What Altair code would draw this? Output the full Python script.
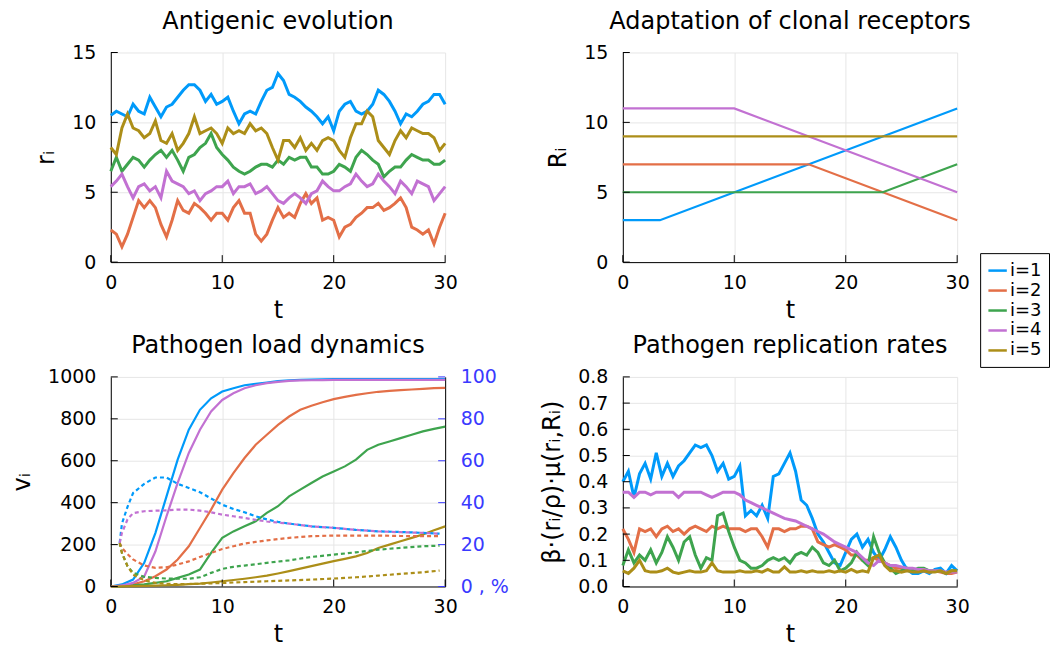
import altair as alt
import pandas as pd

FONT = "DejaVu Sans"
SERIES = ["i=1", "i=2", "i=3", "i=4", "i=5"]
COLORS = ["#009AFA", "#E36F47", "#3EA44E", "#C271D2", "#AC8E18"]
AXIS_BLUE = "#3a3aff"
W, H = 335, 210

# ---------------- Antigenic evolution r_i (t = 0, 0.5, ..., 30) ----------------
T_HALF = [k / 2 for k in range(61)]
R_1 = [10.5, 10.8, 10.6, 10.4, 11.3, 10.8, 10.6, 11.8, 11.1, 10.4,
       11.1, 11.3, 11.8, 12.3, 12.7, 12.7, 12.3, 11.5, 12.0, 11.3,
       11.5, 11.8, 10.8, 9.9, 10.6, 10.8, 10.6, 11.5, 12.3, 12.5,
       13.5, 13.0, 12.0, 11.8, 11.5, 11.1, 10.8, 10.4, 9.9, 10.4,
       9.4, 10.8, 11.3, 11.5, 10.8, 10.6, 10.8, 11.3, 12.3, 12.0,
       11.5, 10.8, 9.9, 10.6, 10.4, 10.8, 11.3, 11.5, 12.0, 12.0,
       11.3]
R_2 = [2.3, 2.0, 1.1, 2.0, 3.2, 4.4, 3.9, 4.4, 3.9, 2.7,
       1.8, 3.0, 4.4, 3.7, 3.5, 4.2, 3.9, 3.5, 3.0, 3.5,
       3.5, 3.0, 3.9, 4.4, 3.5, 3.5, 2.0, 1.5, 2.0, 3.0,
       3.9, 3.2, 3.5, 3.2, 4.2, 4.9, 4.2, 4.6, 3.0, 3.2,
       3.0, 1.8, 2.5, 2.7, 3.2, 3.5, 3.9, 3.9, 4.2, 3.7,
       3.9, 4.2, 4.6, 3.9, 2.5, 2.3, 2.0, 2.3, 1.3, 2.5,
       3.5]
R_3 = [6.5, 7.5, 6.5, 7.0, 7.5, 7.3, 6.8, 7.3, 7.7, 8.0,
       7.5, 8.0, 7.3, 6.5, 7.5, 7.7, 8.2, 8.5, 9.2, 8.2,
       7.7, 7.3, 6.8, 6.5, 6.3, 6.5, 6.8, 7.0, 7.0, 6.8,
       7.3, 7.0, 7.5, 7.3, 7.5, 7.5, 6.8, 6.8, 6.3, 6.3,
       6.5, 7.0, 6.8, 6.5, 7.5, 8.0, 7.7, 7.3, 7.0, 6.1,
       6.5, 6.8, 6.8, 7.3, 7.7, 7.5, 7.3, 7.3, 7.0, 7.0,
       7.3]
R_4 = [5.4, 5.8, 6.3, 5.4, 4.6, 5.4, 5.6, 5.1, 5.4, 4.6,
       6.5, 5.8, 5.6, 5.4, 4.9, 5.1, 4.4, 4.9, 5.1, 5.4,
       5.4, 5.8, 4.9, 5.4, 5.4, 5.6, 4.9, 5.1, 5.4, 4.9,
       4.4, 4.2, 4.6, 4.9, 4.6, 4.2, 4.9, 5.1, 5.8, 5.4,
       5.1, 5.1, 5.4, 5.6, 6.3, 5.8, 5.4, 5.6, 6.3, 5.8,
       5.4, 4.9, 5.8, 5.4, 4.9, 5.8, 5.6, 5.4, 4.4, 4.9,
       5.4]
R_5 = [8.2, 7.7, 9.6, 10.6, 9.6, 9.4, 8.9, 9.2, 10.1, 8.7,
       8.5, 9.2, 8.0, 8.5, 9.2, 10.4, 9.2, 9.4, 9.6, 9.2,
       8.5, 9.6, 9.2, 9.4, 9.2, 9.9, 9.4, 9.6, 9.2, 8.2,
       7.3, 8.7, 8.7, 8.2, 8.9, 8.0, 8.5, 8.0, 8.7, 8.9,
       8.7, 8.0, 7.5, 8.9, 9.9, 9.9, 10.8, 10.4, 8.7, 8.2,
       7.7, 8.7, 9.4, 8.9, 9.6, 9.4, 9.2, 9.2, 8.9, 8.0,
       8.5]

# ---------------- Adaptation of clonal receptors R_i ----------------
RT_T = [[0, 3.33, 30], [0, 16.67, 30], [0, 23.33, 30], [0, 10, 30], [0, 30]]
RT_V = [[3, 3, 11], [7, 7, 3], [5, 5, 7], [11, 11, 5], [9, 9]]

# ---------------- Pathogen load dynamics v_i (t = 0..30) ----------------
T_LOAD = list(range(31))
V_1 = [0, 10, 33, 113, 255, 430, 605, 748, 843, 898, 930, 946, 960, 967, 973, 980,
       984, 986, 987, 988, 989, 989, 989, 989, 989, 989, 989, 989, 989, 989, 989]
V_2 = [0, 3, 10, 25, 49, 81, 129, 192, 279, 367, 462, 541, 613, 676, 724, 771,
       811, 843, 862, 879, 894, 905, 914, 922, 929, 933, 937, 940, 943, 946, 948]
V_3 = [0, 2, 5, 10, 17, 25, 41, 57, 81, 160, 232, 263, 287, 311, 351, 383,
       430, 462, 494, 525, 549, 573, 605, 652, 676, 692, 708, 724, 740, 752, 763]
V_4 = [0, 5, 17, 48, 167, 335, 494, 637, 748, 835, 890, 922, 946, 960, 970, 976,
       981, 983, 984, 985, 986, 986, 986, 986, 986, 986, 986, 986, 986, 986, 986]
V_5 = [0, 1, 2, 3, 4, 6, 8, 11, 14, 19, 25, 31, 37, 44, 52, 62,
       73, 85, 97, 109, 121, 132, 144, 160, 184, 200, 216, 232, 248, 268, 287]

# percentages (right axis, dashed)
T_PCT = [0.8, 1, 1.5, 2, 3, 4, 5, 6, 7, 8, 9, 10, 11, 12, 13, 14, 15, 16,
         18, 20, 22, 24, 26, 28, 29.5]
P_1 = [20.8, 30, 38, 44.6, 49, 52, 52, 49, 47, 45, 42, 39, 37, 35.4, 33.5, 32, 30.8, 30,
       28.7, 28, 27, 26.3, 26, 25.6, 25.2]
P_2 = [20.8, 18.4, 15.5, 12.9, 10, 8.9, 9.2, 10.5, 12, 14.1, 16, 17.9, 19.2, 20.5, 21.3, 22, 22.6, 23.2,
       24, 24.3, 24.3, 24.3, 24.1, 24, 24]
P_3 = [20.8, 16, 9.7, 6.5, 4.6, 4.1, 3.8, 3.7, 3.7, 4.4, 6.5, 8.4, 9.4, 10, 10.6, 11.3, 11.9, 12.5,
       14.1, 15.2, 16.3, 17.6, 18.4, 19.2, 19.5]
P_4 = [20.8, 25.6, 32, 35, 35.9, 36.2, 36.3, 36.7, 36.7, 36.2, 35.4, 34.3, 33.5, 32.7, 31.8, 31, 30.5, 30,
       28.7, 28, 27, 26.3, 25.9, 25.6, 25.2]
P_5 = [20.8, 16, 9.7, 5.7, 3, 1.7, 1.3, 1.1, 1.2, 1.3, 1.5, 1.7, 1.9, 2.1, 2.3, 2.5, 2.7, 2.9,
       3.3, 3.8, 4.4, 5.2, 6, 6.8, 7.6]

# ---------------- Pathogen replication rates (t = 0, 0.5, ..., 30) ----------------
B_1 = [0.40, 0.44, 0.34, 0.43, 0.47, 0.41, 0.51, 0.42, 0.47, 0.42,
       0.46, 0.48, 0.51, 0.54, 0.53, 0.54, 0.50, 0.44, 0.47, 0.41,
       0.42, 0.46, 0.27, 0.29, 0.27, 0.31, 0.26, 0.42, 0.43, 0.47,
       0.51, 0.44, 0.33, 0.31, 0.26, 0.20, 0.17, 0.13, 0.09, 0.08,
       0.13, 0.18, 0.20, 0.15, 0.18, 0.13, 0.10, 0.14, 0.19, 0.15,
       0.10, 0.065, 0.05, 0.05, 0.06, 0.05, 0.065, 0.07, 0.05, 0.08,
       0.06]
B_2 = [0.22, 0.18, 0.13, 0.22, 0.21, 0.22, 0.19, 0.22, 0.23, 0.21,
       0.22, 0.20, 0.22, 0.23, 0.22, 0.21, 0.23, 0.22, 0.23, 0.22,
       0.22, 0.22, 0.21, 0.22, 0.22, 0.19, 0.15, 0.22, 0.22, 0.21,
       0.22, 0.22, 0.23, 0.23, 0.22, 0.17, 0.16, 0.15, 0.16, 0.15,
       0.14, 0.12, 0.12, 0.10, 0.10, 0.11, 0.10, 0.09, 0.08, 0.07,
       0.07, 0.06, 0.065, 0.06, 0.06, 0.055, 0.06, 0.055, 0.05, 0.05,
       0.055]
B_3 = [0.08, 0.14, 0.09, 0.12, 0.10, 0.14, 0.09, 0.13, 0.19, 0.15,
       0.10, 0.17, 0.19, 0.12, 0.07, 0.11, 0.10, 0.27, 0.28, 0.21,
       0.15, 0.10, 0.09, 0.07, 0.07, 0.08, 0.10, 0.11, 0.10, 0.11,
       0.09, 0.12, 0.13, 0.12, 0.15, 0.13, 0.09, 0.08, 0.10, 0.06,
       0.07, 0.09, 0.13, 0.10, 0.08, 0.19, 0.13, 0.09, 0.07, 0.05,
       0.06, 0.07, 0.06, 0.07, 0.07, 0.06, 0.06, 0.06, 0.05, 0.06,
       0.06]
B_4 = [0.36, 0.36, 0.34, 0.36, 0.36, 0.35, 0.36, 0.36, 0.36, 0.36,
       0.34, 0.36, 0.36, 0.36, 0.36, 0.35, 0.34, 0.35, 0.36, 0.36,
       0.36, 0.35, 0.33, 0.32, 0.31, 0.30, 0.29, 0.28, 0.27, 0.26,
       0.255, 0.25, 0.24, 0.23, 0.22, 0.21, 0.20, 0.185, 0.17, 0.16,
       0.15, 0.14, 0.13, 0.11, 0.09, 0.08, 0.10, 0.09, 0.08, 0.08,
       0.075, 0.07, 0.07, 0.065, 0.065, 0.06, 0.06, 0.06, 0.055, 0.055,
       0.055]
B_5 = [0.06, 0.05, 0.07, 0.10, 0.06, 0.055, 0.055, 0.06, 0.07, 0.055,
       0.05, 0.055, 0.06, 0.055, 0.055, 0.06, 0.09, 0.06, 0.055, 0.055,
       0.055, 0.06, 0.055, 0.055, 0.06, 0.055, 0.065, 0.055, 0.055, 0.075,
       0.055, 0.055, 0.06, 0.055, 0.06, 0.055, 0.055, 0.06, 0.055, 0.06,
       0.055, 0.065, 0.055, 0.06, 0.055, 0.11, 0.12, 0.08, 0.06, 0.06,
       0.055, 0.06, 0.055, 0.055, 0.06, 0.055, 0.055, 0.06, 0.05, 0.06,
       0.06]

X_TICKS = [0, 10, 20, 30]


def long_df(ts, series, field="v"):
    rows = []
    for k, (name, vals) in enumerate(zip(SERIES, series)):
        tl = ts[k] if isinstance(ts[0], list) else ts
        for t, v in zip(tl, vals):
            rows.append({"t": t, field: v, "s": name})
    return pd.DataFrame(rows)


# legend lives in the top-right panel; legendX/Y relative to that panel's plot area
LEG = alt.Legend(title=None, orient="none", legendX=358, legendY=201,
                 symbolType="stroke", symbolSize=340, symbolStrokeWidth=2.5,
                 labelFontSize=18, labelFont=FONT, labelColor="black",
                 strokeColor="black", fillColor="white", padding=7,
                 rowPadding=0, labelOffset=2, cornerRadius=0)


def color(show=False):
    return alt.Color("s:N", scale=alt.Scale(domain=SERIES, range=COLORS),
                     legend=LEG if show else None)


XSCALE = alt.Scale(domain=[0, 30], nice=False, zero=False)
XAXIS = alt.Axis(values=X_TICKS, title="t", format="d")


def xenc():
    return alt.X("t:Q", scale=XSCALE, axis=XAXIS)


def xticks():
    return alt.Chart(pd.DataFrame({"t": X_TICKS})).mark_rule(
        color="black", strokeWidth=1).encode(
        x=alt.X("t:Q", scale=XSCALE, axis=XAXIS),
        y=alt.value(H), y2=alt.value(H - 7))


def yticks(vals, domain, axis, field="v", col="black", right=False):
    return alt.Chart(pd.DataFrame({field: vals})).mark_rule(
        color=col, strokeWidth=1).encode(
        y=alt.Y(f"{field}:Q", scale=alt.Scale(domain=domain, nice=False), axis=axis),
        x=alt.value(W if right else 0), x2=alt.value(W - 7 if right else 7))


def title(text):
    return alt.TitleParams(text, font=FONT, fontSize=24, fontWeight="normal",
                           color="black", anchor="middle", frame="group",
                           offset=-9, baseline="alphabetic")


def line_panel(df, ydomain, yvals, ytitle, ttl, fmt="d", sw=2.5, legend=False):
    yaxis = alt.Axis(values=yvals, title=ytitle, format=fmt)
    lines = alt.Chart(df).mark_line(strokeWidth=sw).encode(
        x=xenc(),
        y=alt.Y("v:Q", scale=alt.Scale(domain=ydomain, nice=False), axis=yaxis),
        color=color(legend), detail="s:N")
    return alt.layer(lines, xticks(), yticks(yvals, ydomain, yaxis)).properties(
        width=W, height=H, title=title(ttl))


tl = line_panel(long_df(T_HALF, [R_1, R_2, R_3, R_4, R_5]), [0, 15],
                [0, 5, 10, 15], "r\u1d62", "Antigenic evolution", sw=3)
tr = line_panel(long_df(RT_T, RT_V), [0, 15], [0, 5, 10, 15], "R\u1d62",
                "Adaptation of clonal receptors", sw=2.2, legend=True)
br = line_panel(long_df(T_HALF, [B_1, B_2, B_3, B_4, B_5]), [0, 0.8],
                [0, 0.1, 0.2, 0.3, 0.4, 0.5, 0.6, 0.7, 0.8],
                "\u03b2\u00b7(r\u1d62/\u03c1)\u00b7\u03bc(r\u1d62,R\u1d62)",
                "Pathogen replication rates", fmt=".1f", sw=3)

# bottom-left: twin axes
VL_AXIS = alt.Axis(values=[0, 200, 400, 600, 800, 1000], title="v\u1d62", format="d")
PR_AXIS = alt.Axis(orient="right", values=[0, 20, 40, 60, 80, 100], title=None,
                   labelColor=AXIS_BLUE, grid=False, domainColor="black",
                   labelExpr="datum.value == 0 ? '0 , %' : datum.label")
solid = alt.Chart(long_df(T_LOAD, [V_1, V_2, V_3, V_4, V_5])).mark_line(strokeWidth=2.2).encode(
    x=xenc(),
    y=alt.Y("v:Q", scale=alt.Scale(domain=[0, 1000], nice=False), axis=VL_AXIS),
    color=color(), detail="s:N")
dashed = alt.Chart(long_df(T_PCT, [P_1, P_2, P_3, P_4, P_5], field="p")).mark_line(
    strokeWidth=2.2, strokeDash=[4, 3]).encode(
    x=xenc(),
    y=alt.Y("p:Q", scale=alt.Scale(domain=[0, 100], nice=False), axis=PR_AXIS),
    color=color(), detail="s:N")
left_layer = alt.layer(solid, xticks(),
                       yticks([0, 200, 400, 600, 800, 1000], [0, 1000], VL_AXIS))
right_layer = alt.layer(dashed, yticks([0, 20, 40, 60, 80, 100], [0, 100], PR_AXIS,
                                       field="p", col=AXIS_BLUE, right=True))
bl = alt.layer(left_layer, right_layer).resolve_scale(y="independent").properties(
    width=W, height=H, title=title("Pathogen load dynamics"))

chart = alt.ConcatChart(
    concat=[tl, tr, bl, br], columns=2,
    spacing=alt.RowColnumber(row=115, column=178), bounds="flush",
).resolve_legend(color="independent").properties(
    padding={"left": 10, "top": 9, "right": 3, "bottom": 0}
).configure_view(stroke=None).configure_axis(
    labelFont=FONT, titleFont=FONT, labelFontSize=19, titleFontSize=24,
    titleFontWeight="normal", labelColor="black", titleColor="black",
    domainColor="black", domainWidth=1, gridColor="#e6e6e6", gridWidth=1,
    ticks=False, tickSize=0,
).configure_axisX(labelPadding=11, titlePadding=6, labelFlush=False
).configure_axisY(labelPadding=15, titlePadding=13, labelFlush=False)

chart.save("out.html", embed_options={"renderer": "svg", "actions": False})
